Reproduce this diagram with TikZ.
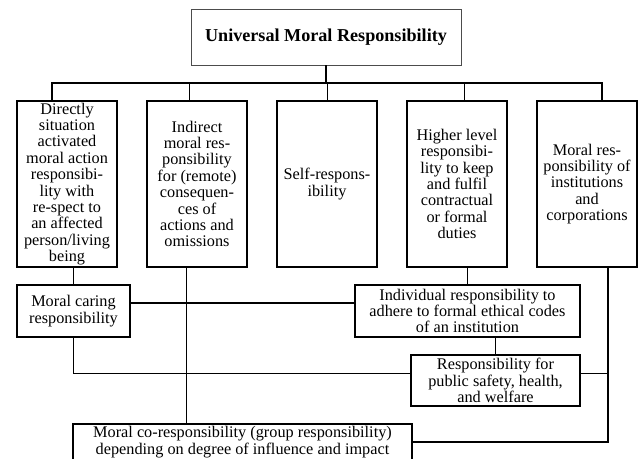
\documentclass[tikz,border=0pt]{standalone}
\usepackage{fontspec}
\setmainfont{Liberation Serif}
\begin{document}
\begin{tikzpicture} [x=0.75pt, y=-0.75pt, font=\fontsize{12.2}{12.3}\selectfont,
	box/.style={draw, line width=1.1pt, align=center, inner xsep=1pt, inner ysep=1pt},
	dbox/.style={box, minimum width=75pt, minimum height=124.5pt},
	link/.style={line width=0.6pt},
	heavy/.style={line width=1.1pt}]
	\useasboundingbox (0,0) rectangle (643,458);
	\node [draw=black!70, link, minimum width=202.5pt, minimum height=42pt, font=\fontsize{13.6}{14}\selectfont\bfseries] (top) at (326,37) {Universal Moral Responsibility};
	\node [dbox] (d1) at (67,184) {Directly\\situation\\activated\\moral action\\responsibi-\\lity with\\re-spect to\\an affected\\person/living\\being};
	\node [dbox] (d2) at (197,184) {Indirect\\moral res-\\ponsibility\\for (remote)\\consequen-\\ces of\\actions and\\omissions};
	\node [dbox] (d3) at (327,184) {Self-respons-\\ibility};
	\node [dbox] (d4) at (457,184) {Higher level\\responsibi-\\lity to keep\\and fulfil\\contractual\\or formal\\duties};
	\node [dbox] (d5) at (587,184) {Moral res-\\ponsibility of\\institutions\\and\\corporations};
	\node [box, minimum width=84.75pt, minimum height=39pt] (caring) at (73.5,311) {Moral caring\\responsibility};
	\node [box, minimum width=168.75pt, minimum height=39pt] (indiv) at (467.5,311) {Individual responsibility to\\adhere to formal ethical codes\\of an institution};
	\node [box, minimum width=126.75pt, minimum height=38.25pt] (resp) at (495.5,380.5) {Responsibility for\\public safety, health,\\and welfare};
	\node [box, minimum width=254.25pt, minimum height=27pt] (corep) at (242.5,442) {Moral co-responsibility (group responsibility)\\depending on degree of influence and impact};
	\coordinate (bus) at (326,83);
	\draw [heavy] (top.south) -- (bus);
	\draw [heavy] ([xshift=-11.25pt]d1.north) |- (bus);
	\draw [link] ([xshift=-6pt]d2.north) |- (bus);
	\draw [link] (d3.north) -- (d3.north |- bus);
	\draw [link] ([xshift=5.25pt]d4.north) |- (bus);
	\draw [heavy] ([xshift=11.25pt]d5.north) |- (bus);
	\draw [link] (caring.north) -- (caring.north |- d1.south);
	\draw [heavy] ([yshift=6pt]caring.east) -- ([yshift=6pt]indiv.west);
	\draw [link] (indiv.north) -- (indiv.north |- d4.south);
	\draw [link] (resp.north) -- (resp.north |- indiv.south);
	\draw [link] (caring.south) |- ([yshift=5.6pt]resp.west);
	\coordinate (rr) at ([yshift=5.6pt]resp.east);
	\coordinate (d5x) at ([xshift=15.75pt]d5.south);
	\draw [link] (rr) -- (rr -| d5x);
	\draw [heavy] (d5x) |- (corep.east);
	\coordinate (d2x) at ([xshift=-8.25pt]d2.south);
	\draw [link] (d2x) -- (d2x |- corep.north);
\end{tikzpicture}
\end{document}
